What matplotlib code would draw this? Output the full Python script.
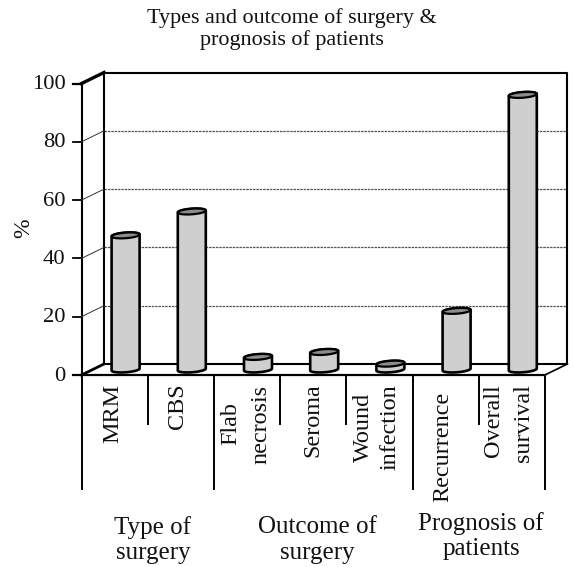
import numpy as np
import matplotlib
matplotlib.use("Agg")
import matplotlib.pyplot as plt
from matplotlib.patches import Polygon
from matplotlib.transforms import Affine2D

categories = ["MRM", "CBS", "Flab necrosis", "Seroma", "Wound infection", "Recurrence", "Overall survival"]
values = [46.0, 54.2, 4.3, 6.0, 2.0, 20.1, 94.2]
y_ticks = [0, 20, 40, 60, 80, 100]
groups = ["Type of\nsurgery", "Outcome of\nsurgery", "Prognosis of\npatients"]
title = "Types and outcome of surgery &\nprognosis of patients"

W, H = 574, 567
X0, Y0 = 81.5, 375.0          # pixel of the front-left floor corner
SX, SY = 66.2, 2.915          # pixels per category / per percent
DX, DY = 22.5 / SX, 11 / SY   # depth of the 3-D box in data units
BAR_A, BAR_B, BAR_T = 14 / SX, 2.8 / SY, 1.0 / SY
BAR_DX, BAR_DY = 11.0 / SX, 5.5 / SY

plt.rcParams["font.family"] = ["Liberation Serif", "DejaVu Serif"]
fig = plt.figure(figsize=(W / 100, H / 100), dpi=100)
ax = fig.add_axes([0, 0, 1, 1])
ax.set_xlim(-X0 / SX, (W - X0) / SX)
ax.set_ylim(-(H - Y0) / SY, Y0 / SY)
ax.axis("off")
px = Affine2D().scale(1, -1).translate(0, H)  # text placement in pixels from top-left
n = len(categories)
K = "#000000"

# 3-D box
ax.plot([DX, n + DX, n + DX, DX, DX], [DY, DY, 100 + DY, 100 + DY, DY], color=K, lw=1.5, zorder=2)
ax.plot([0, DX], [100, 100 + DY], color=K, lw=2.4, zorder=2)
ax.plot([0, DX], [0, DY], color=K, lw=2.0, zorder=2)
ax.plot([n, n + DX], [0, DY], color=K, lw=1.2, zorder=2)
ax.plot([0, 0], [0, 100], color=K, lw=1.5, zorder=2)
ax.plot([-8.5 / SX, n], [0, 0], color=K, lw=1.6, zorder=5)
for v in y_ticks:
    if v != 0:
        ax.plot([-8.5 / SX, 0], [v, v], color=K, lw=1.6 if v == 100 else 1.3, zorder=2)
    if 0 < v < 100:
        ax.plot([0, DX], [v, v + DY], color="#333333", lw=0.7, zorder=2)
        ax.plot([DX, n + DX], [v + DY, v + DY], color="#555555", lw=0.9, ls=(0, (2.0, 0.7)), zorder=1)
    ax.text(-16 / SX, v - 0.4, str(v), ha="right", va="center", fontsize=16.2, color="#111111")

# cylinders
t = np.linspace(0, 2 * np.pi, 90)
for i, v in enumerate(values):
    cx = i + 0.5 + BAR_DX
    base = BAR_DY
    top = v + BAR_DY
    lo = np.linspace(np.pi, 2 * np.pi, 40)
    hi = np.linspace(0, np.pi, 40)
    xs = np.r_[cx + BAR_A * np.cos(lo), cx + BAR_A * np.cos(hi)]
    ys = np.r_[base + BAR_B * np.sin(lo) + BAR_T * np.cos(lo), top + BAR_B * np.sin(hi) + BAR_T * np.cos(hi)]
    ax.add_patch(Polygon(np.c_[xs, ys], closed=True, fc="#cfcfcf", ec=K, lw=1.9, zorder=3))
    ax.add_patch(Polygon(np.c_[cx + BAR_A * np.cos(t), top + BAR_B * np.sin(t) + BAR_T * np.cos(t)],
                         closed=True, fc="#8c8c8c", ec=K, lw=1.6, zorder=4))

# category separators below the floor
for k in range(n + 1):
    long_tick = k in (0, 2, 5, 7)
    ax.plot([k, k], [0, -(114 if long_tick else 49) / SY], color=K, lw=1.4, zorder=2)

# category labels: text, x centre, y centre in pixels
cat_lines = [
    ("MRM", 113, 413), ("CBS", 177, 406),
    ("Flab", 231, 424), ("necrosis", 261, 424),
    ("Seroma", 313, 420),
    ("Wound", 363, 427), ("infection", 390, 427),
    ("Recurrence", 443, 447),
    ("Overall", 494, 421), ("survival", 523, 423),
]
for s, x, y in cat_lines:
    ax.text(x, y, s, transform=px, rotation=90, ha="center", va="center",
            fontsize=17.4, color="#111111")

# group labels
for s, x, y in zip(groups, (153, 317, 481), (540, 540, 536)):
    ax.text(x, y, s, transform=px, ha="center", va="center", fontsize=18,
            linespacing=1.2, color="#111111")

ax.text(24, 228, "%", transform=px, rotation=90, ha="center", va="center", fontsize=17, color="#111111")
ax.text(292, 29, title, transform=px, ha="center", va="center", fontsize=15.9,
        linespacing=1.1, color="#111111")

fig.savefig("out.png", dpi=100)
